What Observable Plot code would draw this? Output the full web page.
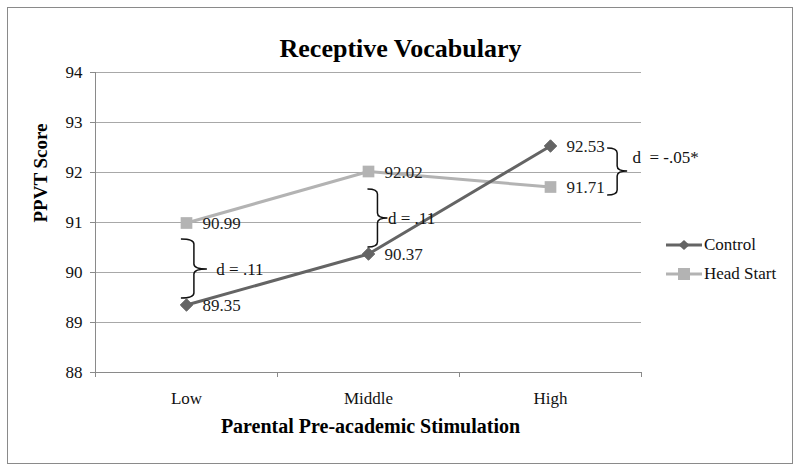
<!DOCTYPE html>
<html><head><meta charset="utf-8">
<script src="https://cdn.jsdelivr.net/npm/d3@7"></script>
<script src="https://cdn.jsdelivr.net/npm/@observablehq/plot@0.6"></script>
<style>
body{margin:0;background:#fff;}
#wrap{position:relative;width:800px;height:471px;overflow:hidden;font-family:'Liberation Serif',serif;}
#border{position:absolute;left:7px;top:7px;width:786px;height:457px;border:1.5px solid #8a8a8a;box-sizing:border-box;pointer-events:none;}
#chart svg{display:block;}
#chart svg text{font-family:'Liberation Serif',serif !important;}
#chart [aria-label="y-axis tick"], #chart [aria-label="x-axis tick"]{stroke:#8a8a8a;}
.leg{position:absolute;left:666px;display:flex;align-items:center;font-size:17px;color:#111;font-family:'Liberation Serif',serif;}
.leg span{font-family:'Liberation Serif',serif;}
.leg svg{margin-right:2px;}
</style></head>
<body><div id="wrap"><div id="chart"></div><div id="border"></div>
<div class="leg" id="leg0" style="top:235px"></div>
<div class="leg" id="leg1" style="top:264px"></div>
</div>
<script>
// ---- data ----
const categories = ["Low", "Middle", "High"];
const controlScores = [89.35, 90.37, 92.53];
const headStartScores = [90.99, 92.02, 91.71];
const yTicks = [88, 89, 90, 91, 92, 93, 94];
const xBoundaries = [0.5, 1.5, 2.5, 3.5];
// effect-size annotations (brace ends and label, in data units)
const effectLabels = ["d = .11", "d = .11", "d  = -.05*"];
const braceX = [0.972, 1.997, 3.314];
const braceTop = [90.66, 91.66, 92.48];
const braceBottom = [89.48, 90.50, 91.54];
const braceMid = [90.06, 91.08, 92.02];
const effectLabelX = [1.164, 2.107, 3.45];
const effectLabelY = [90.06, 91.08, 92.30];

const controlColor = "#646464";
const headColor = "#b3b3b3";

const rows = [];
categories.forEach((c, i) => {
  rows.push({series: "Control", x: i + 1, v: controlScores[i]});
  rows.push({series: "Head Start", x: i + 1, v: headStartScores[i]});
});
const ctrl = rows.filter(d => d.series === "Control");
const head = rows.filter(d => d.series === "Head Start");
const effects = effectLabels.map((t, i) => ({t, x: effectLabelX[i], y: effectLabelY[i]}));

const braceMark = (index, scales) => {
  const {x, y} = scales;
  const g = d3.create("svg:g").attr("fill", "none").attr("stroke", "#111").attr("stroke-width", 1.5);
  const depth = [26, 20, 20];
  for (let i = 0; i < braceX.length; i++) {
    const x0 = x(braceX[i]), xs = x0 + depth[i] / 2, xt = x0 + depth[i];
    const y1 = y(braceTop[i]), y2 = y(braceBottom[i]), ym = y(braceMid[i]);
    const r = 5;
    g.append("path").attr("d",
      `M${x0},${y1} Q${xs},${y1} ${xs},${y1 + r} L${xs},${ym - r} Q${xs},${ym} ${xt},${ym} Q${xs},${ym} ${xs},${ym + r} L${xs},${y2 - r} Q${xs},${y2} ${x0},${y2}`);
  }
  return g.node();
};

const chart = Plot.plot({
  width: 800, height: 471,
  marginLeft: 95, marginRight: 159, marginTop: 72, marginBottom: 99,
  style: {fontFamily: "'Liberation Serif', serif", fontSize: "17px", color: "#111", background: "#fff"},
  x: {domain: [0.5, 3.5], ticks: xBoundaries, tickSize: 5, tickFormat: () => "", label: null},
  y: {domain: [88, 94], ticks: yTicks, tickSize: 5, tickPadding: 8, tickFormat: d => String(d), label: null},
  marks: [
    Plot.ruleY(yTicks.slice(1), {stroke: "#a8a8a8", strokeWidth: 1}),
    Plot.ruleY([88], {stroke: "#8a8a8a", strokeWidth: 1}),
    Plot.ruleX([0.5], {stroke: "#8a8a8a", strokeWidth: 1}),
    Plot.text(categories, {x: (d, i) => i + 1, y: () => 88, dy: 26, fontSize: 17, fill: "#111"}),
    Plot.line(head, {x: "x", y: "v", stroke: headColor, strokeWidth: 3}),
    Plot.line(ctrl, {x: "x", y: "v", stroke: controlColor, strokeWidth: 3}),
    Plot.dot(head, {x: "x", y: "v", symbol: "square", r: 6.6, fill: headColor, stroke: "none"}),
    Plot.dot(ctrl, {x: "x", y: "v", symbol: "diamond2", r: 5.6, fill: controlColor, stroke: controlColor, strokeWidth: 1}),
    Plot.text(head, {x: "x", y: "v", text: d => d.v.toFixed(2), dx: 16, dy: 1, textAnchor: "start", fontSize: 17, fill: "#222"}),
    Plot.text(ctrl, {x: "x", y: "v", text: d => d.v.toFixed(2), dx: 16, dy: 1, textAnchor: "start", fontSize: 17, fill: "#222"}),
    braceMark,
    Plot.text(effects, {x: "x", y: "y", text: "t", textAnchor: "start", fontSize: 17, fill: "#111"}),
    Plot.text(["Receptive Vocabulary"], {frameAnchor: "top", dx: 32, dy: -34, fontSize: 26, fontWeight: "bold", fill: "#000"}),
    Plot.text(["Parental Pre-academic Stimulation"], {frameAnchor: "bottom", dx: 2, dy: 60, fontSize: 20, fontWeight: "bold", fill: "#000"}),
    Plot.text(["PPVT Score"], {frameAnchor: "left", dx: -55, rotate: -90, fontSize: 19, fontWeight: "bold", fill: "#000"})
  ]
});
document.getElementById("chart").appendChild(chart);

// legend
const legendItems = [
  {name: "Control", color: controlColor, sym: "diamond"},
  {name: "Head Start", color: headColor, sym: "square"}
];
legendItems.forEach((it, i) => {
  const el = document.getElementById("leg" + i);
  const s = d3.create("svg").attr("width", 36).attr("height", 16);
  s.append("line").attr("x1", 0).attr("x2", 36).attr("y1", 8).attr("y2", 8).attr("stroke", it.color).attr("stroke-width", 3);
  if (it.sym === "diamond") s.append("path").attr("d", "M18,3 L23.5,8 L18,13 L12.5,8Z").attr("fill", it.color);
  else s.append("rect").attr("x", 12).attr("y", 2).attr("width", 12).attr("height", 12).attr("fill", it.color);
  el.appendChild(s.node());
  const t = document.createElement("span"); t.textContent = it.name; el.appendChild(t);
});
</script></body></html>
